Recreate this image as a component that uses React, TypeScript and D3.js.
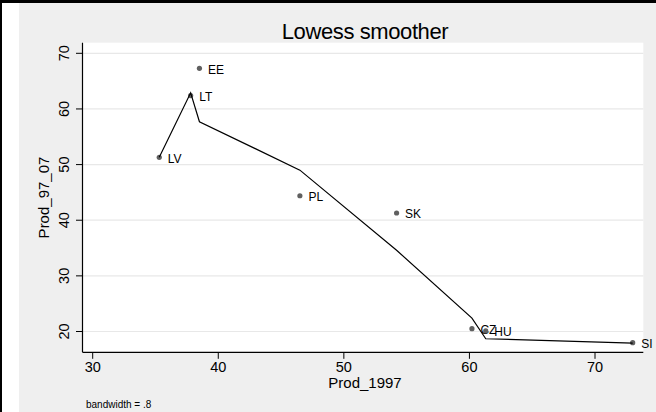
import React from "react";
import * as d3 from "d3";

const labels = ["LV", "LT", "EE", "PL", "SK", "CZ", "HU", "SI"];
const prod1997 = [35.3, 37.8, 38.5, 46.5, 54.2, 60.2, 61.3, 73.0];
const prod9707 = [51.3, 62.4, 67.3, 44.4, 41.3, 20.5, 20.1, 18.0];
const lowessFit = [51.3, 62.9, 57.7, 49.0, 34.6, 22.4, 18.7, 17.9];
const xTicks = [30, 40, 50, 60, 70];
const yTicks = [20, 30, 40, 50, 60, 70];

const W = 656;
const H = 412;
const FONT = "'Liberation Sans', Arial, Helvetica, sans-serif";

export default function App() {
  const x = d3.scaleLinear().domain([30, 70]).range([92.7, 595]);
  const y = d3.scaleLinear().domain([20, 70]).range([331.5, 53.3]);
  const plotL = 82.5, plotR = 643.3, plotT = 42.7, plotB = 352.3;

  const pts = labels.map((l, i) => ({ l, x: prod1997[i], y: prod9707[i], f: lowessFit[i] }));
  const sorted = [...pts].sort((a, b) => a.x - b.x);
  const line = d3
    .line<{ x: number; f: number }>()
    .x((d) => x(d.x))
    .y((d) => y(d.f));

  return (
    <svg
      width={W}
      height={H}
      style={{ position: "fixed", left: 0, top: 0, display: "block" }}
      fontFamily={FONT}
    >
      <rect x={0} y={0} width={W} height={H} fill="#ffffff" />
      <rect x={19} y={3} width={W - 19} height={H - 3} fill="#efefef" />
      <rect x={0} y={0} width={W} height={3} fill="#000" />
      <rect x={0} y={0} width={2} height={H} fill="#000" />

      <rect x={plotL} y={plotT} width={plotR - plotL} height={plotB - plotT} fill="#ffffff" />
      {yTicks.map((t) => (
        <line key={"g" + t} x1={plotL} x2={plotR} y1={y(t)} y2={y(t)} stroke="#e8e8e8" strokeWidth={1.2} />
      ))}

      {/* axes */}
      <line x1={plotL} x2={plotL} y1={plotT} y2={plotB} stroke="#000" strokeWidth={1.2} />
      <line x1={plotL} x2={plotR} y1={plotB} y2={plotB} stroke="#000" strokeWidth={1.2} />
      {yTicks.map((t) => (
        <g key={"y" + t}>
          <line x1={plotL - 6.5} x2={plotL} y1={y(t)} y2={y(t)} stroke="#000" strokeWidth={1} />
          <text
            transform={`translate(69,${y(t)}) rotate(-90)`}
            textAnchor="middle"
            fontSize={14.5}
            fill="#000"
          >
            {t}
          </text>
        </g>
      ))}
      {xTicks.map((t) => (
        <g key={"x" + t}>
          <line x1={x(t)} x2={x(t)} y1={plotB} y2={plotB + 6.5} stroke="#000" strokeWidth={1} />
          <text x={x(t)} y={372} textAnchor="middle" fontSize={14.5} fill="#000">
            {t}
          </text>
        </g>
      ))}

      <text x={365} y={388} textAnchor="middle" fontSize={15} fill="#000">
        Prod_1997
      </text>
      <text
        transform={`translate(49,${(plotT + plotB) / 2}) rotate(-90)`}
        textAnchor="middle"
        fontSize={15}
        fill="#000"
      >
        Prod_97_07
      </text>
      <text x={365} y={38.5} textAnchor="middle" fontSize={22} fill="#000" letterSpacing={-0.4}>
        Lowess smoother
      </text>
      <text x={86} y={408} fontSize={10} fill="#000">
        bandwidth = .8
      </text>

      {/* points */}
      {pts.map((p) => (
        <g key={p.l}>
          <circle cx={x(p.x)} cy={y(p.y)} r={2.6} fill="#606060" />
          <text x={x(p.x) + 8.5} y={y(p.y) + 5.5} fontSize={12} fill="#000">
            {p.l}
          </text>
        </g>
      ))}

      {/* lowess line */}
      <path d={line(sorted) || ""} fill="none" stroke="#000" strokeWidth={1.2} strokeLinejoin="miter" />
    </svg>
  );
}
